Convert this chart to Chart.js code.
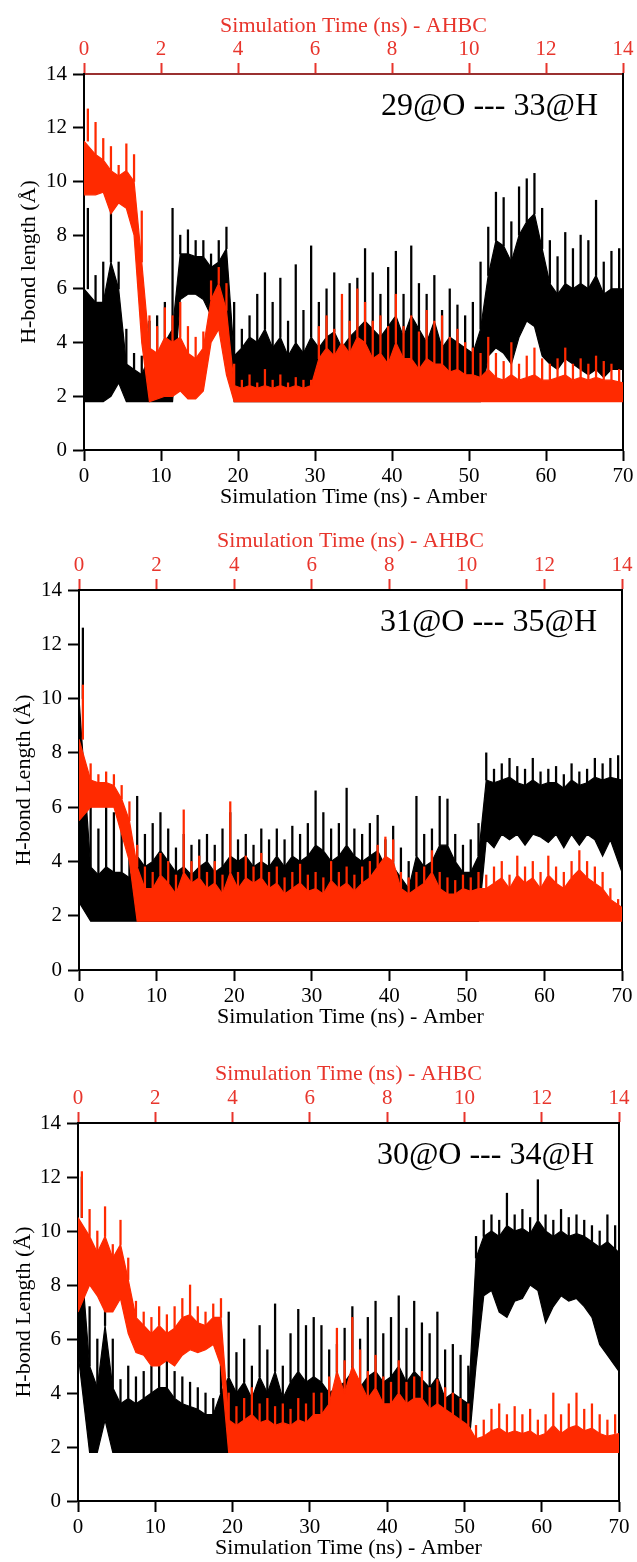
<!DOCTYPE html>
<html>
<head>
<meta charset="utf-8">
<script src="https://cdn.jsdelivr.net/npm/chart.js@4.4.1/dist/chart.umd.min.js"></script>
<style>
  body { margin: 0; background: #fff; }
  canvas { position: absolute; left: 0; }
</style>
</head>
<body>
<canvas id="c1" width="637" height="515" style="top:0px"></canvas>
<canvas id="c2" width="637" height="520" style="top:515px"></canvas>
<canvas id="c3" width="637" height="527" style="top:1035px"></canvas>
<script>
// one bin = 1 ns of Amber time (= 0.2 ns of AHBC time)
// lo = floor of the trace, core = top of the dense part, peak = highest spike in the bin

// 29@O --- 33@H
const amber1Peak = [9.0, 6.5, 7.0, 9.0, 7.0, 4.5, 3.6, 3.5, 4.8, 5.0,
  5.5, 9.0, 8.0, 8.2, 7.8, 7.8, 7.3, 7.8, 8.3, 5.5,
  4.5, 5.0, 5.8, 6.6, 5.5, 6.4, 4.8, 6.9, 5.2, 7.6,
  5.5, 6.0, 6.6, 5.2, 6.2, 6.4, 7.5, 6.6, 5.8, 6.8,
  7.4, 5.8, 7.6, 6.2, 5.8, 6.5, 5.2, 6.0, 5.4, 5.0,
  5.5, 7.0, 8.3, 9.6, 9.4, 8.5, 9.8, 10.1, 10.3, 9.0,
  7.8, 7.2, 8.1, 7.5, 8.0, 7.8, 9.3, 7.0, 7.4, 7.5];
const amber1Core = [6.0, 5.5, 5.5, 7.0, 6.0, 3.2, 3.0, 2.8, 3.5, 3.5,
  4.0, 4.5, 7.3, 7.3, 7.2, 7.2, 6.8, 7.0, 7.5, 3.5,
  3.8, 4.2, 4.0, 4.5, 3.8, 4.2, 3.5, 4.0, 3.6, 4.2,
  3.8, 4.2, 4.4, 3.8, 4.2, 4.5, 4.8, 4.5, 4.2, 4.6,
  5.0, 4.2, 5.0, 4.5, 4.0, 4.8, 3.8, 4.2, 4.0, 3.8,
  3.6, 4.5, 6.5, 7.8, 7.6, 7.0, 8.0, 8.5, 8.8, 7.5,
  6.2, 5.8, 6.2, 6.0, 6.2, 6.0, 6.5, 5.8, 6.0, 6.0];
const amber1Lo = [1.8, 1.8, 1.8, 2.0, 2.5, 1.8, 1.8, 1.8, 1.8, 1.8,
  1.8, 1.8, 5.6, 5.8, 5.8, 5.6, 5.0, 4.6, 4.8, 1.8,
  1.8, 1.8, 1.8, 1.8, 1.8, 1.8, 1.8, 1.8, 1.8, 1.8,
  1.8, 1.8, 1.8, 1.8, 1.8, 1.8, 1.8, 1.8, 1.8, 1.8,
  1.8, 1.8, 1.8, 1.8, 1.8, 1.8, 1.8, 1.8, 1.8, 1.8,
  1.8, 1.8, 3.5, 3.8, 3.6, 3.2, 4.2, 4.8, 4.6, 3.5,
  3.2, 3.0, 3.4, 3.2, 3.0, 2.8, 3.0, 2.7, 3.0, 3.0];
const ahbc1Peak = [12.7, 12.2, 11.6, 11.3, 10.6, 11.4, 11.0, 8.9, 5.0, 4.6,
  5.3, 5.0, 5.5, 4.6, 4.2, 4.4, 6.3, 6.8, 6.2, 3.2,
  2.6, 2.8, 2.5, 3.0, 2.6, 2.8, 2.5, 2.7, 2.6, 2.6,
  4.6, 5.0, 4.5, 5.8, 4.8, 6.0, 5.5, 4.8, 5.0, 4.6,
  5.8, 4.6, 5.0, 4.4, 5.2, 4.8, 5.0, 4.2, 4.5, 4.0,
  3.8, 3.6, 4.2, 3.6, 3.3, 4.0, 3.2, 3.5, 3.8, 3.4,
  3.2, 3.4, 3.8, 3.2, 3.4, 3.2, 3.5, 3.3, 3.2, 3.0];
const ahbc1Core = [11.5, 11.0, 10.8, 10.4, 10.2, 10.4, 10.0, 7.0, 3.8, 3.6,
  4.2, 4.0, 4.2, 3.6, 3.4, 3.8, 5.6, 6.2, 5.2, 2.4,
  2.3, 2.4, 2.3, 2.4, 2.3, 2.4, 2.3, 2.4, 2.3, 2.4,
  3.4, 3.8, 3.5, 4.0, 3.6, 4.2, 4.0, 3.4, 3.6, 3.2,
  4.0, 3.4, 3.4, 3.0, 3.4, 3.2, 3.2, 2.9, 3.0, 2.8,
  2.8, 2.7, 3.0, 2.7, 2.6, 2.8, 2.6, 2.7, 2.8, 2.6,
  2.6, 2.7, 2.8, 2.6, 2.7, 2.6, 2.7, 2.6, 2.6, 2.5];
const ahbc1Lo = [9.5, 9.5, 9.6, 8.8, 9.2, 9.0, 8.0, 4.0, 1.8, 1.9,
  2.0, 2.0, 2.2, 1.9, 1.9, 2.2, 4.0, 4.5, 2.8, 1.8,
  1.8, 1.8, 1.8, 1.8, 1.8, 1.8, 1.8, 1.8, 1.8, 1.8,
  1.8, 1.8, 1.8, 1.8, 1.8, 1.8, 1.8, 1.8, 1.8, 1.8,
  1.8, 1.8, 1.8, 1.8, 1.8, 1.8, 1.8, 1.8, 1.8, 1.8,
  1.8, 1.8, 1.8, 1.8, 1.8, 1.8, 1.8, 1.8, 1.8, 1.8,
  1.8, 1.8, 1.8, 1.8, 1.8, 1.8, 1.8, 1.8, 1.8, 1.8];

// 31@O --- 35@H
const amber2Peak = [12.6, 6.0, 5.2, 6.0, 5.8, 5.5, 4.6, 6.4, 5.0, 5.4,
  5.8, 5.2, 4.5, 5.0, 4.6, 4.8, 5.0, 4.6, 5.2, 5.8,
  4.8, 5.0, 4.6, 5.2, 4.8, 5.2, 4.8, 5.3, 5.0, 5.4,
  6.6, 5.8, 5.2, 5.4, 6.7, 5.2, 5.0, 5.4, 5.7, 4.8,
  5.3, 4.5, 4.0, 6.4, 5.0, 5.2, 6.4, 6.3, 5.0, 4.6,
  4.8, 5.4, 8.0, 7.4, 7.6, 7.8, 7.5, 7.4, 7.8, 7.3,
  7.4, 7.5, 7.2, 7.6, 7.3, 7.4, 7.8, 7.6, 7.8, 7.9];
const amber2Core = [10.0, 3.8, 3.5, 3.8, 3.6, 3.6, 3.4, 4.2, 3.8, 4.0,
  4.4, 4.0, 3.6, 3.8, 3.5, 3.8, 4.0, 3.6, 3.8, 4.2,
  4.0, 4.2, 3.8, 4.0, 3.8, 4.2, 3.8, 4.2, 4.0, 4.2,
  4.6, 4.4, 4.0, 4.2, 4.6, 4.2, 4.0, 4.2, 4.4, 3.8,
  3.8, 3.4, 3.0, 4.2, 3.8, 4.0, 4.6, 4.6, 4.0, 3.6,
  3.6, 4.2, 7.0, 6.9, 7.0, 7.1, 6.9, 6.8, 7.0, 6.8,
  6.9, 6.9, 6.7, 7.0, 6.8, 6.9, 7.1, 7.0, 7.1, 7.0];
const amber2Lo = [2.5, 1.8, 1.8, 1.8, 1.8, 1.8, 1.8, 1.8, 1.8, 1.8,
  1.8, 1.8, 1.8, 1.8, 1.8, 1.8, 1.8, 1.8, 1.8, 1.8,
  1.8, 1.8, 1.8, 1.8, 1.8, 1.8, 1.8, 1.8, 1.8, 1.8,
  1.8, 1.8, 1.8, 1.8, 1.8, 1.8, 1.8, 1.8, 1.8, 1.8,
  1.8, 1.8, 1.8, 1.8, 1.8, 1.8, 1.8, 1.8, 1.8, 1.8,
  1.8, 1.8, 4.8, 4.5, 5.0, 4.8, 5.0, 4.6, 5.0, 4.9,
  4.7, 5.0, 4.5, 5.0, 4.6, 5.0, 4.8, 4.2, 4.8, 3.6];
const ahbc2Peak = [10.5, 7.6, 7.2, 7.3, 7.2, 6.8, 6.2, 4.6, 3.8, 3.6,
  4.3, 4.0, 3.5, 5.9, 4.0, 4.2, 3.6, 4.0, 3.5, 6.2,
  3.6, 4.2, 3.8, 4.3, 3.6, 3.8, 3.4, 3.6, 3.9, 3.5,
  3.6, 3.4, 4.0, 3.6, 3.8, 3.5, 3.8, 4.0, 4.6, 4.9,
  4.8, 3.6, 3.4, 3.6, 3.8, 4.4, 3.6, 3.4, 3.3, 3.5,
  3.4, 3.6, 3.5, 3.8, 4.0, 3.5, 4.2, 3.8, 4.0, 3.6,
  4.2, 3.8, 3.6, 4.0, 4.4, 4.0, 3.8, 3.6, 3.0, 2.6];
const ahbc2Core = [8.5, 7.0, 6.9, 6.9, 6.8, 6.3, 5.5, 3.8, 3.0, 3.0,
  3.5, 3.2, 2.8, 3.6, 3.2, 3.4, 3.0, 3.2, 2.8, 3.6,
  3.0, 3.4, 3.2, 3.4, 3.0, 3.2, 2.8, 3.0, 3.2, 2.9,
  3.0, 2.8, 3.3, 3.0, 3.2, 2.9, 3.2, 3.4, 3.8, 4.2,
  4.0, 3.0, 2.8, 3.0, 3.2, 3.6, 3.0, 2.8, 2.8, 3.0,
  2.9, 3.0, 3.0, 3.2, 3.4, 3.0, 3.5, 3.2, 3.4, 3.0,
  3.5, 3.2, 3.0, 3.4, 3.7, 3.4, 3.2, 3.0, 2.6, 2.3];
const ahbc2Lo = [5.5, 6.0, 6.0, 6.0, 6.0, 5.0, 4.0, 1.8, 1.8, 1.8,
  1.8, 1.8, 1.8, 1.8, 1.8, 1.8, 1.8, 1.8, 1.8, 1.8,
  1.8, 1.8, 1.8, 1.8, 1.8, 1.8, 1.8, 1.8, 1.8, 1.8,
  1.8, 1.8, 1.8, 1.8, 1.8, 1.8, 1.8, 1.8, 1.8, 1.8,
  1.8, 1.8, 1.8, 1.8, 1.8, 1.8, 1.8, 1.8, 1.8, 1.8,
  1.8, 1.8, 1.8, 1.8, 1.8, 1.8, 1.8, 1.8, 1.8, 1.8,
  1.8, 1.8, 1.8, 1.8, 1.8, 1.8, 1.8, 1.8, 1.8, 1.8];

// 30@O --- 34@H
const amber3Peak = [12.0, 7.2, 6.0, 7.7, 6.0, 4.5, 5.0, 4.6, 4.8, 5.0,
  5.5, 5.4, 4.8, 4.6, 4.4, 4.2, 4.0, 3.8, 5.2, 7.0,
  5.5, 6.0, 5.0, 6.5, 5.6, 7.3, 5.0, 6.2, 7.1, 6.5,
  6.8, 6.5, 5.6, 5.8, 6.4, 7.2, 6.0, 6.8, 7.4, 6.2,
  6.8, 7.6, 6.4, 7.4, 6.6, 6.2, 7.0, 5.6, 5.8, 5.4,
  5.0, 9.8, 10.4, 10.6, 10.4, 11.4, 10.6, 10.8, 10.5, 11.9,
  10.6, 10.4, 10.8, 10.5, 10.6, 10.4, 10.2, 10.0, 10.6, 10.2];
const amber3Core = [10.5, 5.0, 4.2, 6.5, 4.2, 3.6, 3.8, 3.6, 3.8, 4.0,
  4.2, 4.2, 3.8, 3.6, 3.5, 3.4, 3.2, 3.2, 4.0, 4.6,
  4.0, 4.4, 3.8, 4.6, 4.0, 4.8, 3.8, 4.4, 4.8, 4.4,
  4.6, 4.4, 4.0, 4.2, 4.4, 4.8, 4.2, 4.6, 4.8, 4.4,
  4.6, 5.0, 4.4, 4.8, 4.5, 4.2, 4.6, 3.8, 4.0, 3.8,
  3.6, 9.0, 9.8, 10.0, 9.8, 10.2, 10.0, 10.1, 9.9, 10.4,
  10.0, 9.8, 10.0, 9.8, 9.9, 9.8, 9.6, 9.4, 9.6, 9.2];
const amber3Lo = [5.5, 1.8, 1.8, 3.0, 1.8, 1.8, 1.8, 1.8, 1.8, 1.8,
  1.8, 1.8, 1.8, 1.8, 1.8, 1.8, 1.8, 1.8, 1.8, 1.8,
  1.8, 1.8, 1.8, 1.8, 1.8, 1.8, 1.8, 1.8, 1.8, 1.8,
  1.8, 1.8, 1.8, 1.8, 1.8, 1.8, 1.8, 1.8, 1.8, 1.8,
  1.8, 1.8, 1.8, 1.8, 1.8, 1.8, 1.8, 1.8, 1.8, 1.8,
  1.8, 5.0, 7.6, 7.8, 7.0, 6.8, 7.4, 7.5, 8.0, 7.8,
  6.6, 7.2, 7.6, 7.4, 7.5, 7.2, 6.8, 5.8, 5.4, 4.8];
const ahbc3Peak = [12.2, 10.8, 10.0, 10.9, 9.5, 10.4, 9.0, 7.4, 7.0, 6.8,
  7.2, 6.9, 7.2, 7.5, 8.0, 7.2, 7.0, 7.3, 7.5, 4.0,
  3.5, 3.8, 4.2, 3.6, 3.8, 3.5, 3.6, 3.4, 3.8, 3.6,
  4.0, 4.0, 4.6, 6.4, 5.2, 6.8, 5.6, 4.8, 5.4, 4.6,
  4.4, 5.2, 4.4, 4.6, 4.8, 4.2, 4.5, 4.2, 4.0, 3.8,
  3.6, 2.8, 3.0, 3.4, 3.6, 3.2, 3.5, 3.2, 3.4, 3.0,
  3.2, 4.0, 3.2, 3.6, 4.0, 3.4, 3.6, 3.2, 3.0, 3.2];
const ahbc3Core = [10.5, 9.8, 9.2, 9.8, 9.0, 9.5, 8.2, 6.8, 6.5, 6.2,
  6.5, 6.2, 6.4, 6.8, 6.9, 6.6, 6.5, 6.8, 6.8, 3.0,
  2.8, 3.0, 3.2, 2.9, 3.0, 2.8, 2.9, 2.8, 3.0, 2.9,
  3.2, 3.2, 3.6, 4.8, 4.0, 5.0, 4.4, 3.8, 4.2, 3.6,
  3.6, 4.0, 3.6, 3.8, 3.8, 3.4, 3.6, 3.4, 3.2, 3.0,
  2.8, 2.3, 2.4, 2.6, 2.7, 2.5, 2.6, 2.5, 2.6, 2.4,
  2.5, 2.8, 2.5, 2.7, 2.8, 2.6, 2.7, 2.5, 2.4, 2.5];
const ahbc3Lo = [7.0, 8.0, 7.6, 7.0, 7.0, 7.5, 6.2, 5.5, 5.4, 5.0,
  5.0, 5.2, 5.0, 5.4, 5.6, 5.5, 5.6, 5.8, 5.0, 1.8,
  1.8, 1.8, 1.8, 1.8, 1.8, 1.8, 1.8, 1.8, 1.8, 1.8,
  1.8, 1.8, 1.8, 1.8, 1.8, 1.8, 1.8, 1.8, 1.8, 1.8,
  1.8, 1.8, 1.8, 1.8, 1.8, 1.8, 1.8, 1.8, 1.8, 1.8,
  1.8, 1.8, 1.8, 1.8, 1.8, 1.8, 1.8, 1.8, 1.8, 1.8,
  1.8, 1.8, 1.8, 1.8, 1.8, 1.8, 1.8, 1.8, 1.8, 1.8];

const amberBin = 1;    // ns
const ahbcBin = 0.2;   // ns
const amberTicks = [0, 10, 20, 30, 40, 50, 60, 70];
const ahbcTicks = [0, 2, 4, 6, 8, 10, 12, 14];
const yTicks = [0, 2, 4, 6, 8, 10, 12, 14];

const RED = '#ff2a00';
const RED_TXT = '#e8352c';
const SERIF = "'Liberation Serif', 'Times New Roman', serif";

// bin centre, first and last bins pushed to the axis ends
function binX(i, n, bin) {
  if (i === 0) return 0;
  if (i === n - 1) return n * bin;
  return (i + 0.5) * bin;
}

function line(vals, bin) {
  return vals.map((v, i) => ({x: binX(i, vals.length, bin), y: v}));
}

function spikes(core, peak, bin) {
  return core.map((v, i) => ({x: (i + 0.5) * bin, y: [v, peak[i]]}));
}

// three datasets per run: spikes, dense band (filled down to the floor), floor
function series(name, axis, color, peak, core, lo, bin) {
  return [
    {
      type: 'bar', label: name + ' spikes', xAxisID: axis, yAxisID: 'y',
      data: spikes(core, peak, bin), backgroundColor: color,
      barThickness: 1.6, grouped: false, borderWidth: 0
    }, {
      type: 'line', label: name, xAxisID: axis, yAxisID: 'y',
      data: line(core, bin), borderColor: color, backgroundColor: color,
      borderWidth: 1.2, pointRadius: 0, tension: 0, fill: '+1'
    }, {
      type: 'line', label: name + ' floor', xAxisID: axis, yAxisID: 'y',
      data: line(lo, bin), borderColor: color,
      borderWidth: 1.2, pointRadius: 0, tension: 0, fill: false
    }
  ];
}

const bondLabel = {
  id: 'bondLabel',
  afterDraw(chart, args, opts) {
    const {ctx, chartArea} = chart;
    ctx.save();
    ctx.font = '32px ' + SERIF;
    ctx.fillStyle = '#000';
    ctx.textAlign = 'right';
    ctx.textBaseline = 'middle';
    ctx.fillText(opts.text, chartArea.right - 25, chartArea.top + 33);
    ctx.restore();
  }
};

function drawPanel(id, p) {
  const canvas = document.getElementById(id);
  const topH = p.plotTop - p.canvasTop;
  const botH = p.canvasTop + canvas.height - p.plotBottom;

  const datasets = series('AHBC', 'xTop', RED, p.redPeak, p.redCore, p.redLo, ahbcBin)
    .concat(series('Amber', 'x', '#000', p.blackPeak, p.blackCore, p.blackLo, amberBin));

  new Chart(canvas, {
    type: 'line',
    data: { datasets: datasets },
    options: {
      responsive: false,
      animation: false,
      devicePixelRatio: 1,
      layout: { padding: 0 },
      plugins: {
        legend: { display: false },
        tooltip: { enabled: false },
        bondLabel: { text: p.label }
      },
      scales: {
        x: {
          type: 'linear',
          position: 'bottom',
          offset: false,
          min: 0, max: 70,
          afterBuildTicks: (s) => { s.ticks = amberTicks.map(v => ({value: v})); },
          ticks: { color: '#000', font: { family: SERIF, size: 21 }, padding: 3, maxRotation: 0 },
          grid: { drawOnChartArea: false, offset: false, tickLength: 11, tickColor: '#000', tickWidth: 2 },
          border: { color: '#000', width: 2 },
          title: {
            display: true, text: 'Simulation Time (ns) - Amber', color: '#000',
            font: { family: SERIF, size: 22 }, padding: { top: 0, bottom: p.xTitlePad }
          },
          afterFit: (s) => { s.height = botH; }
        },
        xTop: {
          type: 'linear',
          position: 'top',
          offset: false,
          min: 0, max: 14,
          afterBuildTicks: (s) => { s.ticks = ahbcTicks.map(v => ({value: v})); },
          ticks: { color: RED_TXT, font: { family: SERIF, size: 21 }, padding: 1, maxRotation: 0 },
          grid: { drawOnChartArea: false, offset: false, tickLength: 11, tickColor: RED_TXT, tickWidth: 2 },
          border: { color: p.topBorder, width: 2 },
          title: {
            display: true, text: 'Simulation Time (ns) - AHBC', color: RED_TXT,
            font: { family: SERIF, size: 22 }, padding: { top: p.topTitlePad, bottom: 0 }
          },
          afterFit: (s) => { s.height = topH; }
        },
        y: {
          position: 'left',
          min: 0, max: 14,
          afterBuildTicks: (s) => { s.ticks = yTicks.map(v => ({value: v})); },
          ticks: { color: '#000', font: { family: SERIF, size: 21 }, padding: 6 },
          grid: { drawOnChartArea: false, tickLength: 11, tickColor: '#000', tickWidth: 2 },
          border: { color: '#000', width: 2 },
          title: {
            display: true, text: p.yTitle, color: '#000',
            font: { family: SERIF, size: 22 }, padding: { top: p.yTitlePad, bottom: 0 }
          },
          afterFit: (s) => { s.width = p.plotLeft; }
        },
        yRight: {
          position: 'right',
          min: 0, max: 14,
          ticks: { display: false },
          grid: { drawOnChartArea: false, drawTicks: false },
          border: { display: true, color: '#000', width: 2 },
          afterFit: (s) => { s.width = 637 - p.plotRight; }
        }
      }
    },
    plugins: [bondLabel]
  });
}

drawPanel('c1', {
  canvasTop: 0, plotTop: 74, plotBottom: 450, plotLeft: 84, plotRight: 623,
  topTitlePad: 13, xTitlePad: 5, yTitlePad: 16, topBorder: '#9a3030',
  label: '29@O --- 33@H', yTitle: 'H-bond length (Å)',
  blackPeak: amber1Peak, blackCore: amber1Core, blackLo: amber1Lo,
  redPeak: ahbc1Peak, redCore: ahbc1Core, redLo: ahbc1Lo
});
drawPanel('c2', {
  canvasTop: 515, plotTop: 590, plotBottom: 970, plotLeft: 79, plotRight: 622,
  topTitlePad: 13, xTitlePad: 5, yTitlePad: 11, topBorder: '#000',
  label: '31@O --- 35@H', yTitle: 'H-bond Length (Å)',
  blackPeak: amber2Peak, blackCore: amber2Core, blackLo: amber2Lo,
  redPeak: ahbc2Peak, redCore: ahbc2Core, redLo: ahbc2Lo
});
drawPanel('c3', {
  canvasTop: 1035, plotTop: 1123, plotBottom: 1501, plotLeft: 78, plotRight: 619,
  topTitlePad: 26, xTitlePad: 1, yTitlePad: 11, topBorder: '#000',
  label: '30@O --- 34@H', yTitle: 'H-bond Length (Å)',
  blackPeak: amber3Peak, blackCore: amber3Core, blackLo: amber3Lo,
  redPeak: ahbc3Peak, redCore: ahbc3Core, redLo: ahbc3Lo
});
</script>
</body>
</html>
